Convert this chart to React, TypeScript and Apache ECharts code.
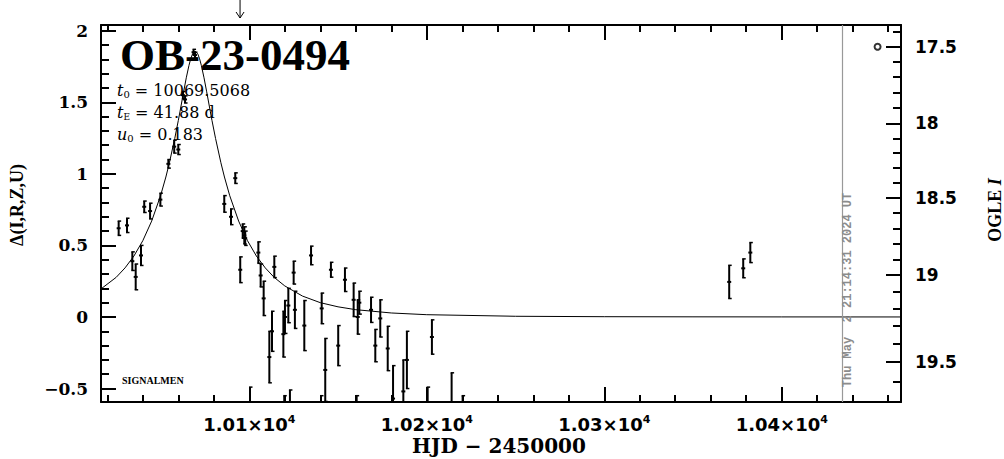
import React, { useEffect, useRef } from "react";
import * as echarts from "echarts";

// ---- axis ranges ----
const X_MIN = 10016.45;
const X_MAX = 10467.2;
const Y_MIN = -0.594;
const Y_MAX = 2.04;

// ---- ticks ----
const xMajorTicks = [10100, 10200, 10300, 10400];
const xMinorTicks = [10020, 10040, 10060, 10080, 10120, 10140, 10160, 10180, 10220, 10240, 10260, 10280, 10320, 10340, 10360, 10380, 10420, 10440, 10460];
const yMajorTicks = [-0.5, 0, 0.5, 1, 1.5, 2];
const yMajorLabels = ["\u22120.5", "0", "0.5", "1", "1.5", "2"];
const yMinorTicks = [-0.4, -0.3, -0.2, -0.1, 0.1, 0.2, 0.3, 0.4, 0.6, 0.7, 0.8, 0.9, 1.1, 1.2, 1.3, 1.4, 1.6, 1.7, 1.8, 1.9];

// OGLE I magnitude ticks (right axis) and their position on the left (delta) scale
const rightMajorMags = ["17.5", "18", "18.5", "19", "19.5"];
const rightMajorPos = [1.888, 1.352, 0.832, 0.292, -0.315];
const rightMinorMags = [17.4, 17.6, 17.7, 17.8, 17.9, 18.1, 18.2, 18.3, 18.4, 18.6, 18.7, 18.8, 18.9, 19.1, 19.2, 19.3, 19.4, 19.6];
const rightMinorPos = [1.993, 1.781, 1.675, 1.569, 1.46, 1.248, 1.144, 1.04, 0.936, 0.725, 0.617, 0.509, 0.401, 0.175, 0.058, -0.062, -0.186, -0.455];

// ---- observations: time, delta, error ----
const obsT = [
  10026.4, 10031.1, 10034.1, 10036.0, 10039.0, 10040.8, 10044.1, 10049.9, 10054.4, 10057.7,
  10060.0, 10062.6, 10063.8, 10068.6, 10069.4, 10085.9, 10089.7, 10092.1, 10094.9, 10096.3,
  10097.2, 10097.7, 10105.1, 10106.4, 10108.1, 10111.3, 10112.8, 10114.1, 10119.2, 10120.1,
  10122.0, 10125.0, 10125.7, 10131.0, 10134.8, 10140.8, 10142.8, 10146.0, 10150.1, 10153.9,
  10158.8, 10161.1, 10162.0, 10168.6, 10171.0, 10173.8, 10178.0, 10181.0, 10186.8, 10188.8,
  10202.9, 10100.4, 10119.7, 10122.9, 10140.4, 10160.5, 10200.5, 10214.0, 10220.2,
  10370.4, 10378.3, 10382.3,
];
const obsDelta = [
  0.62, 0.64, 0.39, 0.28, 0.43, 0.77, 0.74, 0.82, 1.07, 1.19,
  1.17, 1.55, 1.52, 1.85, 1.83, 0.79, 0.70, 0.97, 0.33, 0.60,
  0.57, 0.55, 0.45, 0.29, 0.13, -0.28, -0.10, 0.35, -0.12, 0.0,
  0.08, 0.31, 0.05, -0.06, 0.43, 0.06, -0.37, 0.33, -0.20, 0.26,
  0.12, 0.0, 0.10, 0.05, -0.20, -0.01, -0.22, -0.57, -0.52, -0.30,
  -0.14, -0.65, -0.68, -0.66, -0.70, -0.68, -0.68, -0.70, -0.70,
  0.245, 0.34, 0.45,
];
const obsErr = [
  0.05, 0.05, 0.065, 0.09, 0.07, 0.04, 0.055, 0.045, 0.03, 0.045,
  0.035, 0.025, 0.025, 0.02, 0.02, 0.058, 0.055, 0.037, 0.09, 0.05,
  0.06, 0.05, 0.075, 0.08, 0.12, 0.18, 0.14, 0.075, 0.16, 0.115,
  0.12, 0.08, 0.13, 0.175, 0.065, 0.107, 0.22, 0.052, 0.14, 0.082,
  0.117, 0.12, 0.08, 0.088, 0.113, 0.13, 0.155, 0.23, 0.22, 0.2,
  0.12, 0.16, 0.13, 0.15, 0.15, 0.13, 0.19, 0.31, 0.15,
  0.116, 0.066, 0.07,
];

// ---- model curve ----
const modelT = [
  10016.45, 10025, 10030, 10035, 10040, 10045, 10050, 10053, 10055, 10058,
  10060, 10061, 10063, 10064.5, 10066, 10067, 10068, 10069.5, 10071, 10072,
  10073, 10074.5, 10076, 10078, 10079, 10081, 10084, 10086, 10089, 10094,
  10099, 10104, 10109, 10114, 10120, 10130, 10140, 10150, 10160, 10180,
  10200, 10250, 10300, 10350, 10400, 10467.2,
];
const modelDelta = [
  0.196, 0.277, 0.343, 0.426, 0.533, 0.67, 0.847, 0.978, 1.078, 1.247,
  1.372, 1.438, 1.573, 1.671, 1.757, 1.804, 1.837, 1.857, 1.837, 1.804,
  1.757, 1.671, 1.573, 1.438, 1.372, 1.247, 1.078, 0.978, 0.847, 0.67,
  0.533, 0.426, 0.343, 0.277, 0.217, 0.146, 0.1, 0.071, 0.051, 0.028,
  0.016, 0.005, 0.002, 0.001, 0.0005, 0.0002,
];

// ---- OGLE point, markers ----
const ogleT = [10454.0];
const ogleMag = [17.5];
const nowT = 10434.0;
const arrowT = 10094.8;

const allMags = [17.4, 17.5, 17.6, 17.7, 17.8, 17.9, 18.0, 18.1, 18.2, 18.3, 18.4, 18.5, 18.6, 18.7, 18.8, 18.9, 19.0, 19.1, 19.2, 19.3, 19.4, 19.5, 19.6];
function magToDelta(m: number): number {
  const pos = allMags.map((mm) => {
    const i = rightMajorMags.map(Number).indexOf(mm);
    if (i >= 0) return rightMajorPos[i];
    return rightMinorPos[rightMinorMags.indexOf(mm)];
  });
  for (let i = 0; i < allMags.length - 1; i++) {
    if (m >= allMags[i] && m <= allMags[i + 1]) {
      const f = (m - allMags[i]) / (allMags[i + 1] - allMags[i]);
      return pos[i] + f * (pos[i + 1] - pos[i]);
    }
  }
  return pos[0];
}

const SERIF = '"DejaVu Serif"';
const SANS = '"DejaVu Sans"';
const LSERIF = '"Liberation Serif"';

export default function App() {
  const ref = useRef<HTMLDivElement>(null);
  useEffect(() => {
    if (!ref.current) return;
    const chart = echarts.init(ref.current, undefined, { renderer: "svg" });

    const tickStyle = { color: "#000", width: 2 };
    const baseX = { type: "value", min: X_MIN, max: X_MAX, splitLine: { show: false } };
    const baseY = { type: "value", min: Y_MIN, max: Y_MAX, splitLine: { show: false } };

    const paramRich = (subSize: number) => ({
      i: { font: `italic 16px ${SERIF}`, fill: "#000", lineHeight: 18 },
      s: { font: `${subSize}px ${SERIF}`, fill: "#000", lineHeight: 11, verticalAlign: "bottom" },
      n: { font: `16px ${SERIF}`, fill: "#000", lineHeight: 18 },
    });

    const option: any = {
      animation: false,
      backgroundColor: "#fff",
      grid: { left: 101, right: 103, top: 25, bottom: 57, containLabel: false },
      xAxis: [
        {
          ...baseX,
          position: "bottom",
          axisLine: { show: true, onZero: false, lineStyle: tickStyle },
          axisTick: { show: true, inside: true, length: 15, lineStyle: tickStyle, customValues: xMajorTicks },
          axisLabel: {
            show: true,
            margin: 12,
            customValues: xMajorTicks,
            formatter: (v: number) => `{b|${(v / 10000).toFixed(2)}\u00d710}{s|4}`,
            rich: {
              b: { fontSize: 18, fontFamily: SANS, fontWeight: "bold", color: "#000", lineHeight: 20 },
              s: { fontSize: 11, fontFamily: SANS, fontWeight: "bold", color: "#000", lineHeight: 12, verticalAlign: "top" },
            },
          },
        },
        {
          ...baseX,
          position: "bottom",
          axisLine: { show: false, onZero: false },
          axisTick: { show: true, inside: true, length: 7, lineStyle: tickStyle, customValues: xMinorTicks },
          axisLabel: { show: false },
        },
        {
          ...baseX,
          position: "top",
          axisLine: { show: true, onZero: false, lineStyle: tickStyle },
          axisTick: { show: true, inside: true, length: 15, lineStyle: tickStyle, customValues: xMajorTicks },
          axisLabel: { show: false },
        },
        {
          ...baseX,
          position: "top",
          axisLine: { show: false, onZero: false },
          axisTick: { show: true, inside: true, length: 7, lineStyle: tickStyle, customValues: xMinorTicks },
          axisLabel: { show: false },
        },
      ],
      yAxis: [
        {
          ...baseY,
          position: "left",
          axisLine: { show: true, onZero: false, lineStyle: tickStyle },
          axisTick: { show: true, inside: true, length: 15, lineStyle: tickStyle, customValues: yMajorTicks },
          axisLabel: {
            show: true,
            margin: 13,
            customValues: yMajorTicks,
            formatter: (v: number) => {
              let best = 0;
              yMajorTicks.forEach((t, i) => { if (Math.abs(t - v) < Math.abs(yMajorTicks[best] - v)) best = i; });
              return yMajorLabels[best];
            },
            fontSize: 17,
            fontFamily: SERIF,
            fontWeight: "bold",
            color: "#000",
          },
        },
        {
          ...baseY,
          position: "left",
          axisLine: { show: false, onZero: false },
          axisTick: { show: true, inside: true, length: 8, lineStyle: tickStyle, customValues: yMinorTicks },
          axisLabel: { show: false },
        },
        {
          ...baseY,
          position: "right",
          axisLine: { show: true, onZero: false, lineStyle: tickStyle },
          axisTick: { show: true, inside: true, length: 15, lineStyle: tickStyle, customValues: rightMajorPos },
          axisLabel: {
            show: true,
            margin: 14,
            customValues: rightMajorPos,
            formatter: (v: number) => {
              let best = 0;
              rightMajorPos.forEach((t, i) => { if (Math.abs(t - v) < Math.abs(rightMajorPos[best] - v)) best = i; });
              return rightMajorMags[best];
            },
            fontSize: 17,
            fontFamily: SANS,
            fontWeight: "bold",
            color: "#000",
          },
        },
        {
          ...baseY,
          position: "right",
          axisLine: { show: false, onZero: false },
          axisTick: { show: true, inside: true, length: 8, lineStyle: tickStyle, customValues: rightMinorPos },
          axisLabel: { show: false },
        },
      ],
      series: [
        {
          type: "line",
          name: "model",
          data: modelT.map((t, i) => [t, modelDelta[i]]),
          showSymbol: false,
          symbol: "none",
          lineStyle: { color: "#000", width: 1 },
          clip: true,
          z: 3,
          markLine: {
            silent: true,
            symbol: "none",
            label: { show: false },
            lineStyle: { color: "#999", width: 1.2, type: "solid" },
            data: [{ xAxis: nowT }],
          },
        },
        {
          type: "custom",
          name: "obs",
          clip: true,
          z: 4,
          data: obsT.map((t, i) => [t, obsDelta[i], obsErr[i]]),
          encode: { x: 0, y: 1 },
          renderItem: (_p: any, api: any) => {
            const t = api.value(0);
            const d = api.value(1);
            const e = api.value(2);
            const top = api.coord([t, d + e]);
            const bot = api.coord([t, d - e]);
            const c = api.coord([t, d]);
            const x = c[0];
            return {
              type: "group",
              children: [
                { type: "line", shape: { x1: x, y1: top[1], x2: x, y2: bot[1] }, style: { stroke: "#000", lineWidth: 2 } },
                { type: "line", shape: { x1: x - 1, y1: top[1], x2: x + 2.5, y2: top[1] }, style: { stroke: "#000", lineWidth: 1.5 } },
                { type: "line", shape: { x1: x - 1, y1: bot[1], x2: x + 2.5, y2: bot[1] }, style: { stroke: "#000", lineWidth: 1.5 } },
                { type: "rect", shape: { x: x - 2, y: c[1] - 1, width: 4, height: 2 }, style: { fill: "#000" } },
              ],
            };
          },
        },
        {
          type: "scatter",
          name: "OGLE",
          data: ogleT.map((t, i) => [t, magToDelta(ogleMag[i])]),
          symbol: "circle",
          symbolSize: 6,
          itemStyle: { color: "#fff", borderColor: "#000", borderWidth: 2 },
          z: 5,
        },
        {
          type: "custom",
          name: "arrow",
          clip: false,
          data: [[arrowT, Y_MAX]],
          encode: { x: 0, y: 1 },
          renderItem: (_p: any, api: any) => {
            const p = api.coord([api.value(0), api.value(1)]);
            const x = p[0];
            const y0 = p[1];
            return {
              type: "group",
              children: [
                { type: "line", shape: { x1: x, y1: y0 - 25, x2: x, y2: y0 - 7 }, style: { stroke: "#000", lineWidth: 1 } },
                { type: "polyline", shape: { points: [[x - 4, y0 - 13], [x, y0 - 7], [x + 4, y0 - 13]] }, style: { stroke: "#000", lineWidth: 1, fill: "none" } },
              ],
            };
          },
        },
      ],
      graphic: [
        {
          type: "text",
          x: 120,
          y: 55,
          style: { text: "OB-23-0494", font: `bold 45px ${LSERIF}`, fill: "#000", verticalAlign: "middle", lineHeight: 30 },
          z: 10,
        },
        {
          type: "text",
          x: 117,
          y: 90,
          style: { text: "{i|t}{s|0}{n| = 10069.5068}", verticalAlign: "middle", rich: paramRich(10) },
          z: 10,
        },
        {
          type: "text",
          x: 117,
          y: 112.5,
          style: { text: "{i|t}{s|E}{n| = 41.88 d}", verticalAlign: "middle", rich: paramRich(9) },
          z: 10,
        },
        {
          type: "text",
          x: 117,
          y: 134,
          style: { text: "{i|u}{s|0}{n| = 0.183}", verticalAlign: "middle", rich: paramRich(10) },
          z: 10,
        },
        {
          type: "text",
          x: 122,
          y: 380,
          style: { text: "SIGNALMEN", font: `bold 10px ${LSERIF}`, fill: "#000", verticalAlign: "middle" },
          z: 10,
        },
        {
          type: "text",
          x: 17,
          y: 205,
          rotation: Math.PI / 2,
          style: { text: "\u0394(I,R,Z,U)", font: `bold 18px ${LSERIF}`, fill: "#000", align: "center", verticalAlign: "middle" },
        },
        {
          type: "text",
          x: 995,
          y: 210,
          rotation: Math.PI / 2,
          style: {
            text: "{a|OGLE }{b|I}",
            align: "center",
            verticalAlign: "middle",
            rich: {
              a: { font: `bold 18px ${LSERIF}`, fill: "#000" },
              b: { font: `bold italic 18px ${LSERIF}`, fill: "#000" },
            },
          },
        },
        {
          type: "text",
          x: 499,
          y: 446,
          style: { text: "HJD \u2212 2450000", font: `bold 20px ${SERIF}`, fill: "#000", align: "center", verticalAlign: "middle" },
        },
        {
          type: "text",
          x: 848,
          y: 290,
          rotation: Math.PI / 2,
          style: { text: "Thu May  2 21:14:31 2024 UT", font: `bold 12px "Liberation Mono"`, fill: "#8c8c8c", align: "center", verticalAlign: "middle" },
          z: 10,
        },
      ],
    };
    chart.setOption(option);
    return () => chart.dispose();
  }, []);
  return <div ref={ref} style={{ position: "fixed", left: 0, top: 0, width: "1004px", height: "459px", background: "#fff" }} />;
}
